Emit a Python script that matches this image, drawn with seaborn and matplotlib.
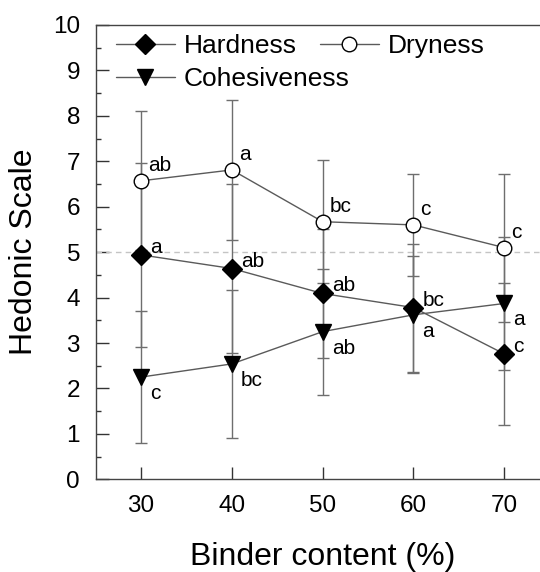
import matplotlib
matplotlib.use("Agg")
import matplotlib.pyplot as plt
from matplotlib.ticker import MultipleLocator
import seaborn as sns
import pandas as pd

# ---- data ----
binder = [30, 40, 50, 60, 70]
hardness = [4.94, 4.64, 4.09, 3.78, 2.76]
hardness_sd = [2.03, 1.87, 1.43, 1.41, 1.56]
dryness = [6.57, 6.81, 5.67, 5.60, 5.10]
dryness_sd = [1.53, 1.55, 1.36, 1.13, 1.63]
cohesiveness = [2.25, 2.54, 3.25, 3.62, 3.87]
cohesiveness_sd = [1.45, 1.63, 1.39, 1.29, 1.46]
hardness_letters = ["a", "ab", "ab", "bc", "c"]
dryness_letters = ["ab", "a", "bc", "c", "c"]
cohesiveness_letters = ["c", "bc", "ab", "a", "a"]
yticks = [0, 1, 2, 3, 4, 5, 6, 7, 8, 9, 10]

sns.set_style("ticks")
plt.rcParams["font.family"] = ["Liberation Sans", "DejaVu Sans"]
plt.rcParams["text.color"] = "black"
plt.rcParams["axes.labelcolor"] = "black"
plt.rcParams["xtick.color"] = "black"
plt.rcParams["ytick.color"] = "black"

W, H = 540, 572
fig = plt.figure(figsize=(W / 100, H / 100), dpi=100)
ax_left, ax_right, ax_top, ax_bot = 96, 540, 25, 479.3
ax = fig.add_axes([ax_left / W, 1 - ax_bot / H, (ax_right - ax_left) / W, (ax_bot - ax_top) / H])

series = [
    ("Hardness", hardness, hardness_sd, hardness_letters, "D", 10, "k", (9, 2)),
    ("Dryness", dryness, dryness_sd, dryness_letters, "o", 10.5, "white", (7, 10)),
    ("Cohesiveness", cohesiveness, cohesiveness_sd, cohesiveness_letters, "v", 11, "k", (9, -22)),
]

ax.axhline(5, color="#c4c4c4", ls=(0, (4, 3)), lw=1, zorder=1)

handles = {}
for name, vals, sd, letters, mk, ms, fc, off in series:
    ax.errorbar(binder, vals, yerr=sd, fmt="none", ecolor="#6e6e6e",
                elinewidth=1, capsize=4, capthick=1, zorder=2)
    df = pd.DataFrame({"binder": binder, "value": vals})
    sns.lineplot(data=df, x="binder", y="value", ax=ax, color="#5a5a5a", lw=1,
                 marker=mk, ms=ms, mfc=fc, mec="k", mew=1, errorbar=None,
                 legend=False, zorder=3)
    handles[name] = ax.lines[-1]
    for x, y, t in zip(binder, vals, letters):
        ax.annotate(t, (x, y), xytext=off, textcoords="offset pixels",
                    fontsize=15, ha="left", va="baseline", zorder=4, color="black")

ax.set_xlim(25.04, 73.94)
ax.set_ylim(0, 10)
ax.set_xticks(binder)
ax.set_yticks(yticks)
ax.yaxis.set_minor_locator(MultipleLocator(0.5))
ax.tick_params(axis="both", which="major", direction="in", length=9, width=1,
               color="#333333", labelcolor="black", labelsize=17.5, pad=11.5)
ax.tick_params(axis="y", which="minor", direction="in", length=3.6, width=1, color="#333333")
ax.tick_params(axis="x", which="minor", length=0)
for s in ["left", "top", "bottom"]:
    ax.spines[s].set_color("#444444")
    ax.spines[s].set_linewidth(1)
ax.spines["right"].set_visible(False)

ax.set_xlabel("Binder content (%)", fontsize=23, color="black")
ax.set_ylabel("Hedonic Scale", fontsize=23, labelpad=10, color="black")
ax.xaxis.set_label_coords((323 - ax_left) / (ax_right - ax_left), -0.137)

leg_kw = dict(frameon=False, fontsize=19, handlelength=2.23, handletextpad=0.34,
              borderpad=0, borderaxespad=0, loc="center left",
              bbox_transform=fig.transFigure, labelcolor="black")
leg1 = ax.legend([handles["Hardness"], handles["Dryness"]], ["Hardness", "Dryness"],
                 ncol=2, columnspacing=0.87, bbox_to_anchor=(116 / W, 1 - 46 / H), **leg_kw)
ax.add_artist(leg1)
ax.legend([handles["Cohesiveness"]], ["Cohesiveness"],
          bbox_to_anchor=(116 / W, 1 - 79 / H), **leg_kw)

fig.savefig("out.png", dpi=100)
